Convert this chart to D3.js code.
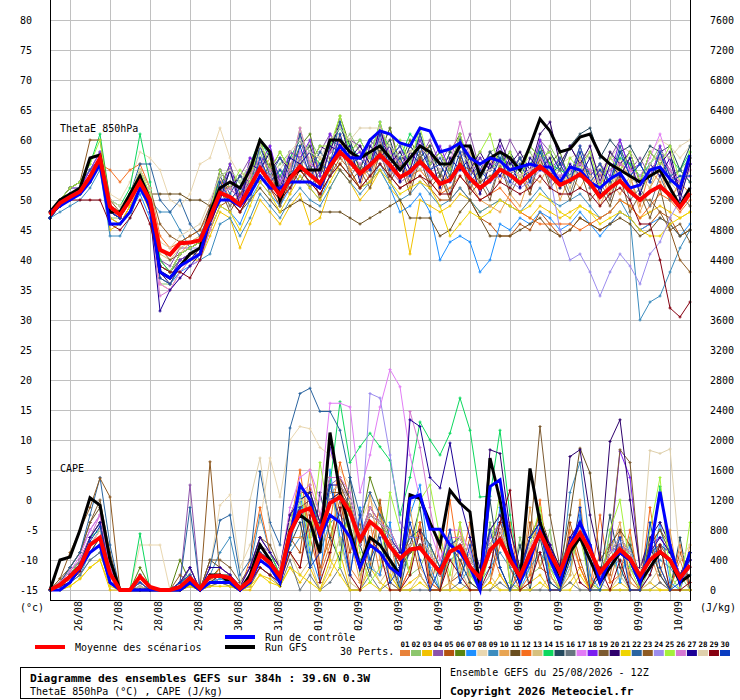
<!DOCTYPE html>
<html><head><meta charset="utf-8">
<script src="https://cdn.jsdelivr.net/npm/d3@7"></script>
<style>
body{margin:0;background:#fff}
svg{display:block}
text{font-family:"DejaVu Sans Mono",monospace;font-size:10px;fill:#000}
</style></head>
<body><svg id="chart" width="740" height="700"></svg>
<script>
// ---- DATA (6-hourly steps, 0..384h from 25/08 12Z) ----
const dateLabels = ["26/08","27/08","28/08","29/08","30/08","31/08","01/09","02/09","03/09","04/09","05/09","06/09","07/09","08/09","09/09","10/09"];
const leftTicks = [80,75,70,65,60,55,50,45,40,35,30,25,20,15,10,5,0,-5,-10,-15];
const rightTicks = [7600,7200,6800,6400,6000,5600,5200,4800,4400,4000,3600,3200,2800,2400,2000,1600,1200,800,400,0];
const pertColors = ["#e8823a","#8cc66c","#f2c200","#8c52aa","#b4520f","#5a8410","#1e90ff","#e9d7b0","#3c8cbe","#e8a452","#6a4e1e","#f66e1e","#d6c07e","#0cd85e","#244a5e","#687680","#e27cf6","#7a1ef0","#7c5a30","#2e006c","#f0d400","#2a64a0","#8e5a22","#9c8cee","#a4f03c","#d678d2","#1c0096","#dfd0ac","#860010","#0a3cc0"];

const thetaMean = [47.5,49.5,50.5,51.4,53.9,57.0,48.9,47.5,50.0,53.0,50.0,41.7,40.9,42.8,42.9,43.3,47.0,51.2,50.5,49.2,52.2,55.3,53.0,50.8,53.6,55.6,54.2,52.8,55.6,58.0,56.4,54.4,55.8,57.5,55.8,53.8,54.7,56.4,54.7,52.7,53.3,55.8,53.6,52.0,53.3,55.1,54.2,52.8,54.2,55.6,54.2,52.5,53.3,54.3,52.8,50.5,52.0,53.2,51.4,50.0,51.4,52.3,50.8,48.8,51.1];
const thetaCtrl = [48,49,50,51,53,56,46,46,48,52,49, 38,37,39,40,41,47, 50,50,49,51,54,52,52,53,53,53,52,56,59,57, 57,60,61.5,61,59.5,59,62,61.5,58,58.5,59.5,57,56,57, 56.5,55,55.5,56,55.5,55.5,53,55.5,55,53,52,53.5,54.5,52,52.5,55,55.5,53.5,52,57.5];
const thetaGfs = [48,50,51,52,57,57.5,48,48,51,54,50, 38,37,39,41,42,48, 52,53,52,55,60,58,50,54,55,55,55,60,60,58, 57,58,59,57,55,57,59,58,56,56,59,59,54,57, 58,57,55,59,63.5,61.5,58,58.5,60.5,61,57.5,56,55,54,53,54,55,52,49,52];
const thetaPerts = [
[48,49,51,52,54,57,48,47,50,53,49,38,37,40,41,42,48,54,50,52,56,55,58,53,51,57,59,52,55,61,55,52,58,60,55,57,53,58,59,51,56,58,52,55,57,53,57,55,51,58,56,52,55,57,52,55,50,56,54,49,55,53,50,53,51],
[48,50,52,52,55,58,47,47,51,54,51,36,36,38,40,41,46,50,55,53,51,58,54,56,58,55,60,57,54,59,61,58,55,61,59,55,58,60,56,58,54,60,57,53,58,59,54,57,58,55,59,56,53,58,57,52,58,55,57,53,56,59,54,55,57],
[47,49,50,51,53,56,45,46,49,52,48,36,35,38,40,40,44,48,47,42,46,50,48,46,49,51,46,47,52,55,53,50,52,55,52,50,41,50,49,48,49,51,50,48,49,50,49,48,47,49,48,47,48,49,48,47,48,50,49,47,48,49,48,47,48],
[48,50,51,52,55,58,49,48,51,54,51,40,39,42,42,43,49,55,52,54,57,56,59,52,57,60,55,58,61,57,60,59,56,58,62,55,59,57,60,56,59,57,61,55,58,56,60,57,54,60,58,55,59,56,58,54,57,60,55,57,54,58,55,52,56],
[48,49,50,51,53,56,47,46,49,52,50,40,38,40,41,41,45,49,50,48,51,54,52,49,53,55,53,51,54,57,55,52,54,56,54,52,53,54,52,50,50,52,50,47,46,44,44,46,45,48,46,44,45,47,46,45,46,48,47,45,46,48,47,44,45],
[47,49,51,52,54,57,48,47,50,53,50,39,38,41,42,43,47,52,56,51,54,60,55,58,55,59,61,54,58,64,59,55,60,58,62,56,60,57,59,54,58,61,55,57,55,58,55,57,53,59,56,58,53,57,54,56,52,58,56,51,55,57,53,55,53],
[47,49,50,51,53,56,46,46,48,51,47,37,36,38,39,40,45,49,48,46,50,53,51,49,52,54,52,50,54,56,54,52,53,55,52,48,49,51,48,40,43,44,43,38,40,46,45,47,46,48,47,45,46,48,46,44,46,48,47,45,46,47,46,44,46],
[48,50,52,53,55,58,51,50,53,58,57,55,50,49,51,56,57,62,57,54,55,57,56,54,56,58,57,56,59,61,60,58,59,61,59,57,58,59,58,56,57,58,57,56,57,58,57,56,57,59,57,56,57,58,57,55,57,59,58,56,58,60,59,57,59],
[47,48,49,50,52,55,44,44,47,52,50,48,48,45,42,40,41,46,47,44,47,51,49,47,50,52,50,49,52,55,53,51,53,56,53,50,51,53,51,49,50,52,50,48,49,50,49,48,50,52,50,49,50,51,49,47,48,50,47,30,33,34,38,42,45],
[48,50,51,52,54,57,49,48,51,54,50,39,38,41,43,44,48,53,49,51,55,54,57,50,56,55,53,57,54,60,55,56,53,59,54,57,52,58,53,55,50,57,53,50,49,48,51,49,54,53,56,50,54,52,55,49,53,51,54,48,52,55,50,51,49],
[48,50,51,51,53,56,48,47,50,53,51,51,51,51,50,50,49,51,50,48,50,52,50,48,49,50,49,48,48,48,47,46,47,48,49,50,47,47,47,44,45,48,50,47,44,44,44,45,46,47,45,44,45,47,46,45,46,47,46,44,45,47,46,44,45],
[48,50,51,52,54,56,55,53,55,56,52,44,42,43,44,45,48,53,52,50,53,56,54,51,53,55,53,52,55,58,56,54,55,57,55,53,54,55,53,51,52,54,52,50,51,52,50,48,47,46,46,46,46,45,46,47,48,50,49,47,49,51,50,48,50],
[48,50,51,52,54,57,50,49,51,54,51,41,40,42,43,44,48,50,55,49,54,57,52,55,53,58,54,56,59,56,59,53,58,57,60,53,58,55,58,52,57,55,58,51,56,57,53,56,54,58,53,56,52,57,53,55,51,57,53,54,52,57,53,51,55],
[48,50,52,53,56,61,50,49,52,61,53,40,38,40,41,42,47,54,55,53,56,60,57,54,57,60,58,56,59,62,59,57,59,61,59,57,61,59,57,55,56,58,56,54,55,57,56,55,56,58,56,55,54,56,55,53,55,57,56,54,56,58,57,55,58],
[47,49,51,52,54,57,48,47,50,53,50,39,38,41,42,43,47,51,55,50,56,56,58,52,58,57,59,54,60,59,60,55,60,58,60,55,59,57,59,54,58,57,59,54,58,56,58,55,59,57,58,55,59,61,62,57,60,58,59,56,59,58,59,55,59],
[48,49,51,51,53,56,48,47,50,53,49,39,38,40,41,42,46,52,49,51,50,56,51,54,52,57,52,55,54,59,54,56,54,60,54,56,53,58,53,55,51,57,52,54,51,56,52,55,52,57,53,55,51,56,52,53,50,55,50,52,49,54,50,51,49],
[48,50,51,52,55,57,48,47,50,53,49,36,35,38,40,41,46,52,53,50,53,56,54,52,55,58,56,55,58,60,58,57,59,61,58,56,57,59,57,55,56,58,56,54,55,56,55,54,55,57,55,54,55,56,55,53,57,56,55,54,57,61,56,53,54],
[48,50,52,52,55,58,49,48,51,54,51,38,37,40,41,42,48,51,56,50,57,56,59,53,58,57,60,54,61,59,57,58,55,62,57,59,55,60,56,59,55,61,54,57,55,59,55,57,54,60,55,57,53,59,54,56,54,60,55,56,53,59,54,53,56],
[48,50,51,52,54,57,49,48,50,53,51,42,40,41,42,43,46,52,48,51,53,53,56,49,55,53,56,50,57,55,53,55,52,58,53,56,51,57,52,54,50,57,51,53,50,56,51,54,51,57,52,54,50,55,50,52,49,54,48,51,47,52,45,46,43],
[47,49,51,52,54,57,48,47,50,53,50,38,36,39,40,42,47,55,52,54,53,59,55,57,55,61,56,59,58,63,57,59,56,62,56,58,55,61,56,58,55,60,55,58,55,60,56,58,55,61,63,56,59,56,59,53,58,56,58,53,58,56,58,51,57],
[48,49,50,51,53,56,47,46,49,52,49,37,36,39,40,41,45,49,48,45,49,53,51,48,51,54,52,50,53,56,54,52,53,55,53,51,52,53,52,49,44,46,48,47,48,50,49,48,49,51,50,48,47,49,48,46,47,48,47,45,44,44,46,47,48],
[48,50,52,53,55,57,49,48,51,56,56,50,48,50,46,44,48,54,51,54,52,59,54,57,54,61,55,58,56,63,58,60,57,63,57,59,56,61,55,57,54,60,54,56,53,58,54,57,54,59,54,57,54,59,54,56,53,59,54,56,53,58,54,55,53],
[48,50,52,53,60,60,50,48,51,55,52,46,44,43,44,45,49,52,52,50,53,56,54,52,54,57,55,53,56,59,57,55,56,58,56,54,55,57,55,53,54,56,55,53,54,55,54,53,54,56,54,53,53,54,53,51,52,54,52,50,50,48,45,40,38],
[48,49,51,52,54,57,48,47,50,53,50,39,38,41,42,42,46,51,52,50,53,56,54,52,54,57,55,53,56,58,56,54,56,57,55,53,54,56,54,53,53,55,54,52,53,54,53,52,53,55,54,45,40,41,38,34,38,41,39,36,41,43,47,50,52],
[48,50,52,53,56,60,49,48,51,55,51,39,38,41,42,43,48,55,52,55,53,60,55,58,55,62,56,59,59,64,58,60,57,63,57,60,56,62,56,58,55,61,56,58,61,55,58,53,59,57,58,52,57,55,58,52,57,55,58,53,58,56,59,53,58],
[48,50,51,52,54,57,48,47,50,53,48,34,35,37,39,40,45,51,52,50,54,57,55,53,55,62,56,55,58,60,58,56,58,60,58,56,57,59,57,55,56,63,57,55,56,56,55,54,55,57,55,54,55,56,55,53,55,56,55,53,55,57,55,53,55],
[47,49,51,52,54,57,48,47,50,53,48,31.5,35,37,39,41,46,50,55,49,56,55,58,51,57,56,58,52,59,58,59,53,59,57,59,53,58,56,58,52,57,55,57,51,56,54,57,52,57,55,57,52,56,54,57,51,56,54,57,51,56,54,57,50,56],
[48,50,51,52,54,57,50,49,51,55,52,43,42,44,45,46,50,54,55,53,56,59,57,55,58,60,58,57,60,62,60,62,62,62,59,57,58,59,57,55,56,58,56,54,55,56,55,54,55,56,55,53,54,55,54,52,53,55,54,52,56,58,57,59,60],
[48,49,50,50,50,50,46,45,47,50,46,39,38,38,37,40,46,50,50,48,51,54,52,50,52,55,53,51,54,56,54,52,54,56,54,52,53,54,53,51,51,54,52,50,51,53,52,51,52,54,52,51,51,52,51,49,51,52,50,46,46,40,32,30.5,33],
[47,49,51,52,54,57,48,47,50,53,49,37,36,39,41,42,46,53,50,52,51,57,53,55,53,59,54,56,55,61,56,57,55,61,55,57,54,59,55,56,53,58,53,55,53,57,53,56,53,58,54,56,53,58,53,55,53,58,54,56,53,58,53,54,54]
];

const capeMean = [0,70,180,310,600,700,220,0,0, 180,40,0,0,40,160,20,180, 190,160,20,130,470,360,180,760, 1040,1090,760,1160,1240,1040,670,910, 800,580,420,540,560,400,240,510, 580,310,160,530,670,400,180,490, 760,490,240,580,760,530,230,400, 540,420,190,400,510,400,160,330];
const capeCtrl = [0,0,100,300,500,600,100,0,0, 0,0,0,0,0,100,0,100, 100,100,0,100,400,300,100,700, 1400,1200,700,1000,900,700,300,600, 500,300,200,1220,1270,810,810,600, 500,300,0,1380,1470,600,100,400, 800,400,100,600,900,600,100,400, 500,400,100,500,1310,600,100,500];
const capeGfs = [0,400,440,800,1230,1130,400,0,0, 0,0,0,0,0,100,0,200, 200,100,0,200,600,400,100,800, 1000,900,500,2100,1300,800,300,700, 600,400,200,1270,1220,900,600,1330, 1160,1040,0,1760,1200,500,100,1620, 900,500,100,500,700,400,100,300, 500,400,100,300,500,400,100,200];
const capePerts = [
[0,50,150,300,500,600,100,0,0,50,0,0,0,0,100,0,150,200,100,0,50,300,200,100,500,300,1200,200,600,1400,300,100,900,200,700,0,300,900,100,0,500,800,100,0,600,200,0,300,100,900,200,0,700,300,0,500,100,600,100,0,500,100,0,400,0],
[0,100,200,350,700,900,200,0,0,100,0,0,0,50,200,0,100,150,100,0,100,400,300,100,600,1200,400,900,1500,600,1100,200,400,1000,100,600,200,300,600,0,800,200,500,0,900,300,0,700,200,300,800,0,200,900,100,0,600,100,700,0,300,600,0,200,0],
[0,0,50,150,300,400,0,0,0,0,0,0,0,0,50,0,50,100,50,0,0,200,150,50,300,100,300,0,200,500,0,0,300,100,0,0,100,200,0,0,100,0,100,0,0,200,0,0,100,200,0,0,100,300,0,0,0,100,0,0,100,0,0,0,0],
[0,100,300,500,800,1000,300,0,0,200,0,0,0,100,1400,0,200,100,100,0,100,500,400,200,900,1200,1300,800,1400,1500,1200,700,1100,900,700,400,600,700,500,200,600,700,400,200,600,800,500,200,600,800,500,200,600,900,600,200,500,600,500,200,500,600,500,200,400],
[0,50,100,250,500,700,100,0,0,0,0,0,0,0,100,0,100,200,150,0,100,400,300,200,700,500,1400,300,700,1200,500,900,300,1200,300,100,800,200,0,600,100,200,700,0,100,800,300,0,900,300,200,0,900,400,0,300,200,800,200,0,700,200,0,500,100],
[0,50,150,300,600,800,200,0,0,300,50,0,0,400,100,0,150,300,200,50,150,500,300,150,800,1000,1100,700,1200,1300,1000,800,1500,1100,700,400,500,600,400,200,500,600,300,100,500,700,400,100,500,700,400,100,500,700,500,200,400,500,400,100,400,500,400,100,300],
[0,0,100,200,500,600,100,0,0,50,0,0,0,0,100,0,100,150,100,0,100,300,200,100,600,1300,500,100,1600,700,200,1100,300,200,900,0,1000,1400,300,0,700,100,300,0,200,1100,100,0,300,1000,100,0,300,1000,200,0,800,100,600,0,200,900,100,0,400],
[0,100,250,400,700,900,300,0,0,600,600,600,0,0,200,50,300,1130,1270,300,600,900,1760,1240,2000,2180,2150,1900,1800,1600,1400,900,1200,1000,800,500,700,800,600,300,600,700,400,200,600,800,500,200,600,800,500,200,600,800,500,200,500,600,500,200,500,700,500,200,400],
[0,50,100,200,400,500,100,0,0,0,0,0,0,50,300,0,200,500,700,100,300,1000,500,200,500,700,800,500,900,1000,800,400,600,500,400,200,500,600,400,200,400,500,200,100,300,500,300,100,300,500,300,100,1300,1700,600,200,300,400,300,100,300,400,300,100,200],
[0,50,200,350,600,700,200,0,0,100,0,0,0,50,200,0,200,200,150,0,200,500,400,200,700,700,1600,1000,400,1500,700,100,1300,400,200,0,1100,300,100,800,0,900,0,0,800,1000,100,0,1100,300,600,0,200,1200,100,0,500,900,100,0,600,200,800,0,600],
[0,100,300,500,900,1100,400,0,0,100,0,0,0,100,300,0,400,300,200,50,300,700,500,300,1000,1300,1300,900,1500,1500,1200,700,1100,900,700,400,700,800,600,300,600,700,400,200,700,900,600,200,700,1000,600,300,1000,1890,1560,400,600,800,600,200,600,800,500,200,500],
[0,50,150,300,600,800,200,0,0,100,0,0,0,0,100,0,100,300,200,0,400,1100,500,200,800,1600,700,200,900,1700,1200,300,600,1100,100,0,300,900,100,0,1200,300,900,0,100,600,900,0,200,1200,200,0,800,300,0,1000,100,200,800,0,1100,300,0,600,0],
[0,50,150,300,500,600,100,0,0,50,0,0,0,0,50,0,100,100,100,0,100,300,200,100,500,200,400,0,300,700,100,0,400,100,300,0,0,200,0,0,100,300,0,0,200,0,0,100,0,0,200,0,300,0,0,100,0,200,0,0,100,300,0,0,0],
[0,100,250,400,700,800,200,0,0,750,0,0,0,100,300,0,200,200,150,0,200,600,500,200,900,1200,1300,800,1400,2510,1700,1910,2090,1910,1730,1000,1500,2240,2000,1800,2090,2560,2130,1240,1250,2130,1000,200,700,900,500,200,600,900,600,200,500,700,500,200,500,1380,500,200,400],
[0,50,150,300,500,700,100,0,0,100,0,0,0,50,150,0,100,200,100,0,100,400,300,100,600,900,300,1300,700,400,1500,600,200,800,400,0,600,1100,200,0,600,400,100,0,1200,300,0,600,0,700,100,0,500,900,0,200,1000,300,0,0,600,200,0,700,0],
[0,0,100,200,400,500,100,0,0,0,0,0,0,0,50,0,50,100,50,0,50,300,200,50,400,0,200,0,100,300,0,0,200,0,100,0,0,0,0,0,0,100,0,0,0,100,0,0,0,0,0,0,100,0,0,0,0,0,0,0,0,100,0,0,0],
[0,100,250,450,800,1000,300,0,0,100,0,0,0,100,300,0,300,300,200,50,300,700,500,300,1100,1500,1600,1200,2490,2490,2440,1300,1800,2440,2940,2710,1800,1200,800,400,800,800,500,200,700,900,600,200,700,900,600,200,700,900,600,200,500,700,500,200,500,700,500,200,400],
[0,100,200,400,700,900,300,0,0,100,0,0,0,100,200,0,200,200,200,0,200,500,400,200,900,1100,1200,800,1900,1400,1200,700,1000,900,700,400,600,700,500,200,600,700,400,200,600,800,500,200,600,800,500,200,600,800,500,200,500,1850,1500,300,600,700,500,200,400],
[0,150,300,500,900,1200,500,0,0,200,0,0,0,100,300,0,400,400,300,100,300,700,600,300,1000,1300,1300,900,1300,1400,1100,600,1000,900,600,300,600,700,500,200,500,700,400,200,600,900,600,200,700,2180,1000,300,700,900,600,200,600,1870,1700,300,600,800,600,200,500],
[0,100,200,400,700,900,200,0,0,100,0,0,0,100,200,0,200,200,200,0,200,600,400,200,800,1000,1100,700,1200,1300,1100,600,900,800,600,300,500,600,400,200,500,600,400,200,1870,1820,800,300,700,900,600,300,1780,1870,1000,400,1980,2270,1200,300,700,900,600,200,500],
[0,0,50,150,300,400,50,0,0,0,0,0,0,0,50,0,50,50,50,0,50,200,100,50,300,200,100,0,400,200,0,0,100,0,200,0,0,100,0,0,0,0,0,0,100,0,0,0,0,100,0,0,0,200,0,0,0,0,0,0,0,0,0,0,0],
[0,100,300,500,1000,1500,600,0,0,200,0,0,0,100,1100,0,300,930,1000,200,400,1580,900,600,2160,2620,2690,2380,2380,2130,1500,1000,1300,1000,800,500,700,800,600,300,600,700,400,200,600,800,500,200,600,800,500,200,600,800,500,200,500,600,500,200,500,600,500,200,400],
[0,150,500,800,1100,1490,1240,0,0,100,0,0,0,200,100,0,1710,200,100,0,200,600,400,200,800,1100,1200,800,1300,1300,1100,600,900,800,600,300,500,600,400,200,500,600,300,100,500,700,400,100,500,700,400,100,500,700,400,100,400,600,400,100,400,600,400,100,300],
[0,50,200,350,600,800,200,0,0,100,0,0,0,50,200,0,200,200,150,0,200,500,300,200,700,1000,1100,700,1200,1200,1000,600,2620,2560,1800,900,700,700,500,200,500,600,300,100,500,700,400,100,500,700,400,100,500,700,400,100,400,500,400,100,300,500,400,100,300],
[0,100,200,400,700,900,200,0,0,100,0,0,0,100,200,0,200,200,200,0,200,500,400,200,900,1400,600,1700,900,300,1200,500,100,300,1300,800,200,1200,1400,700,200,900,200,0,500,1300,100,0,600,1100,300,0,400,700,100,0,800,1200,300,0,800,1500,200,0,900],
[0,100,250,400,700,1000,300,0,0,100,0,0,0,100,300,0,300,300,200,50,300,600,500,300,1000,1300,1400,1000,1500,1500,1300,700,1100,900,800,500,2380,1900,1100,400,700,700,400,200,600,800,500,200,600,800,500,200,600,800,500,200,500,600,500,200,500,1300,600,200,400],
[0,50,200,350,700,900,200,0,0,100,0,0,0,100,300,0,300,300,200,50,300,700,500,300,1000,1200,1300,900,1400,1400,1200,700,1000,900,700,500,2270,2180,1500,1360,1960,1200,700,300,800,1000,600,200,700,900,600,200,700,900,600,200,500,700,500,200,500,700,500,200,400],
[0,50,150,300,600,800,200,0,0,100,0,0,0,50,200,0,200,200,150,0,1200,1760,800,300,900,1200,1200,800,1300,1400,1200,700,1000,900,700,400,600,700,500,200,500,700,400,200,600,800,500,200,600,800,500,200,600,800,500,200,500,700,500,200,1860,1820,1880,400,600],
[0,50,100,250,500,600,100,0,0,0,0,0,0,0,100,0,100,100,100,0,100,300,200,100,500,300,1000,100,500,1100,200,0,700,500,0,0,200,800,0,0,400,200,0,0,300,900,1330,0,100,500,0,0,600,100,0,300,0,400,0,0,200,600,0,0,100],
[0,50,200,350,650,850,200,0,0,100,0,0,0,100,200,0,200,200,150,0,200,500,400,200,800,1100,300,500,1400,900,200,1000,400,700,100,300,900,400,0,300,800,100,600,0,800,300,0,200,700,900,0,0,400,1100,0,0,300,700,0,0,900,300,0,100,500]
];

// ---- CHART ----
const svg = d3.select("#chart");
const x = d3.scaleLinear().domain([0, 64]).range([50, 690]);
const yT = d3.scaleLinear().domain([-15, 80]).range([590, 20]);
const yC = d3.scaleLinear().domain([0, 7600]).range([590, 20]);

const grid = svg.append("g").attr("shape-rendering","crispEdges").attr("stroke","#c0c0c0").attr("stroke-width",1);
grid.selectAll("line.h").data(leftTicks).join("line").attr("class","h")
  .attr("x1",50).attr("x2",690).attr("y1",d=>yT(d)+0.5).attr("y2",d=>yT(d)+0.5);
const dayIdx = dateLabels.map((d,i)=>2+4*i);
grid.selectAll("line.v").data(dayIdx).join("line").attr("class","v")
  .attr("x1",d=>x(d)+0.5).attr("x2",d=>x(d)+0.5).attr("y1",0).attr("y2",600);

// axes labels
const axL = svg.append("g").attr("transform","translate(50,0)")
  .call(d3.axisLeft(yT).tickValues(leftTicks).tickSize(0).tickPadding(18).tickFormat(d=>String(d)));
axL.select(".domain").remove();
axL.selectAll("text").attr("font-family","DejaVu Sans Mono").attr("font-size",10)
  .attr("x",d=>d<0?-12:-18);
const axR = svg.append("g").attr("transform","translate(690,0)")
  .call(d3.axisRight(yC).tickValues(rightTicks).tickSize(0).tickPadding(20).tickFormat(d=>String(d)));
axR.select(".domain").remove();
axR.selectAll("text").attr("font-family","DejaVu Sans Mono").attr("font-size",10);
const axB = svg.append("g").attr("transform","translate(0,600)")
  .call(d3.axisBottom(x).tickValues(dayIdx).tickSize(0).tickFormat((d,i)=>dateLabels[i]));
axB.select(".domain").remove();
axB.selectAll("text").attr("font-family","DejaVu Sans Mono").attr("font-size",10)
  .attr("transform","rotate(-90)").attr("text-anchor","end").attr("x",-1).attr("y",11).attr("dy",0);

svg.append("text").attr("x",20).attr("y",611).text("(°c)");
svg.append("text").attr("x",700).attr("y",611).text("(J/kg)");
svg.append("text").attr("x",60).attr("y",132).text("ThetaE 850hPa");
svg.append("text").attr("x",60).attr("y",472).text("CAPE");

// series
const lineT = d3.line().x((d,i)=>x(i)).y(d=>yT(d));
const lineC = d3.line().x((d,i)=>x(i)).y(d=>yC(d));
const plotG = svg.append("g");
function crosses(vals, yScale){
  return vals.map((v,i)=>{const px=x(i), py=yScale(v);
    return `M${px-1.5},${py}h3M${px},${py-1.5}v3`;}).join("");
}
thetaPerts.forEach((s,k)=>{
  plotG.append("path").attr("d",lineT(s)).attr("fill","none").attr("stroke",pertColors[k]).attr("stroke-width",1);
  plotG.append("path").attr("d",crosses(s,yT)).attr("fill","none").attr("stroke",pertColors[k]).attr("stroke-width",1);
});
capePerts.forEach((s,k)=>{
  plotG.append("path").attr("d",lineC(s)).attr("fill","none").attr("stroke",pertColors[k]).attr("stroke-width",1);
  plotG.append("path").attr("d",crosses(s,yC)).attr("fill","none").attr("stroke",pertColors[k]).attr("stroke-width",1);
});
[[thetaGfs,lineT],[capeGfs,lineC]].forEach(([s,l])=>plotG.append("path").attr("d",l(s)).attr("fill","none").attr("stroke","#000").attr("stroke-width",3));
[[thetaCtrl,lineT],[capeCtrl,lineC]].forEach(([s,l])=>plotG.append("path").attr("d",l(s)).attr("fill","none").attr("stroke","#0000ff").attr("stroke-width",3));
[[thetaMean,lineT],[capeMean,lineC]].forEach(([s,l])=>plotG.append("path").attr("d",l(s)).attr("fill","none").attr("stroke","#ff0000").attr("stroke-width",4));

// frame
const fr = svg.append("g").attr("shape-rendering","crispEdges").attr("stroke","#000");
fr.append("line").attr("x1",50.5).attr("x2",50.5).attr("y1",0).attr("y2",600);
fr.append("line").attr("x1",690.5).attr("x2",690.5).attr("y1",0).attr("y2",600);
fr.append("line").attr("x1",50).attr("x2",691).attr("y1",600.5).attr("y2",600.5);

// legend
svg.append("line").attr("x1",35).attr("x2",65).attr("y1",647).attr("y2",647).attr("stroke","#ff0000").attr("stroke-width",4);
svg.append("text").attr("x",75).attr("y",651).text("Moyenne des scénarios");
svg.append("line").attr("x1",225).attr("x2",255).attr("y1",637).attr("y2",637).attr("stroke","#0000ff").attr("stroke-width",4);
svg.append("text").attr("x",265).attr("y",641).text("Run de contrôle");
svg.append("line").attr("x1",225).attr("x2",255).attr("y1",647).attr("y2",647).attr("stroke","#000").attr("stroke-width",4);
svg.append("text").attr("x",265).attr("y",651).text("Run GFS");
svg.append("text").attr("x",340).attr("y",655).text("30 Perts.");
const sw = d3.scaleLinear().domain([0,29]).range([400,720]);
svg.selectAll("rect.sw").data(pertColors).join("rect").attr("class","sw")
  .attr("x",(d,i)=>sw(i)).attr("y",650).attr("width",10).attr("height",6).attr("fill",d=>d);
svg.selectAll("text.sn").data(pertColors).join("text").attr("class","sn")
  .attr("x",(d,i)=>sw(i)+5).attr("y",646.5).attr("text-anchor","middle")
  .style("font-size","7.5px").style("font-weight","bold").text((d,i)=>String(i+1).padStart(2,"0"));

// title boxes
svg.append("rect").attr("x",20.5).attr("y",667.5).attr("width",420).attr("height",31).attr("fill","none").attr("stroke","#000");
svg.append("text").attr("x",30).attr("y",682).style("font-weight","bold").style("font-size","11.3px").text("Diagramme des ensembles GEFS sur 384h : 39.6N 0.3W");
svg.append("text").attr("x",30).attr("y",695).text("ThetaE 850hPa (°C) , CAPE (J/kg)");
svg.append("text").attr("x",450).attr("y",676).text("Ensemble GEFS du 25/08/2026 - 12Z");
svg.append("text").attr("x",450).attr("y",695).style("font-weight","bold").style("font-size","11.3px").text("Copyright 2026 Meteociel.fr");
</script></body></html>
